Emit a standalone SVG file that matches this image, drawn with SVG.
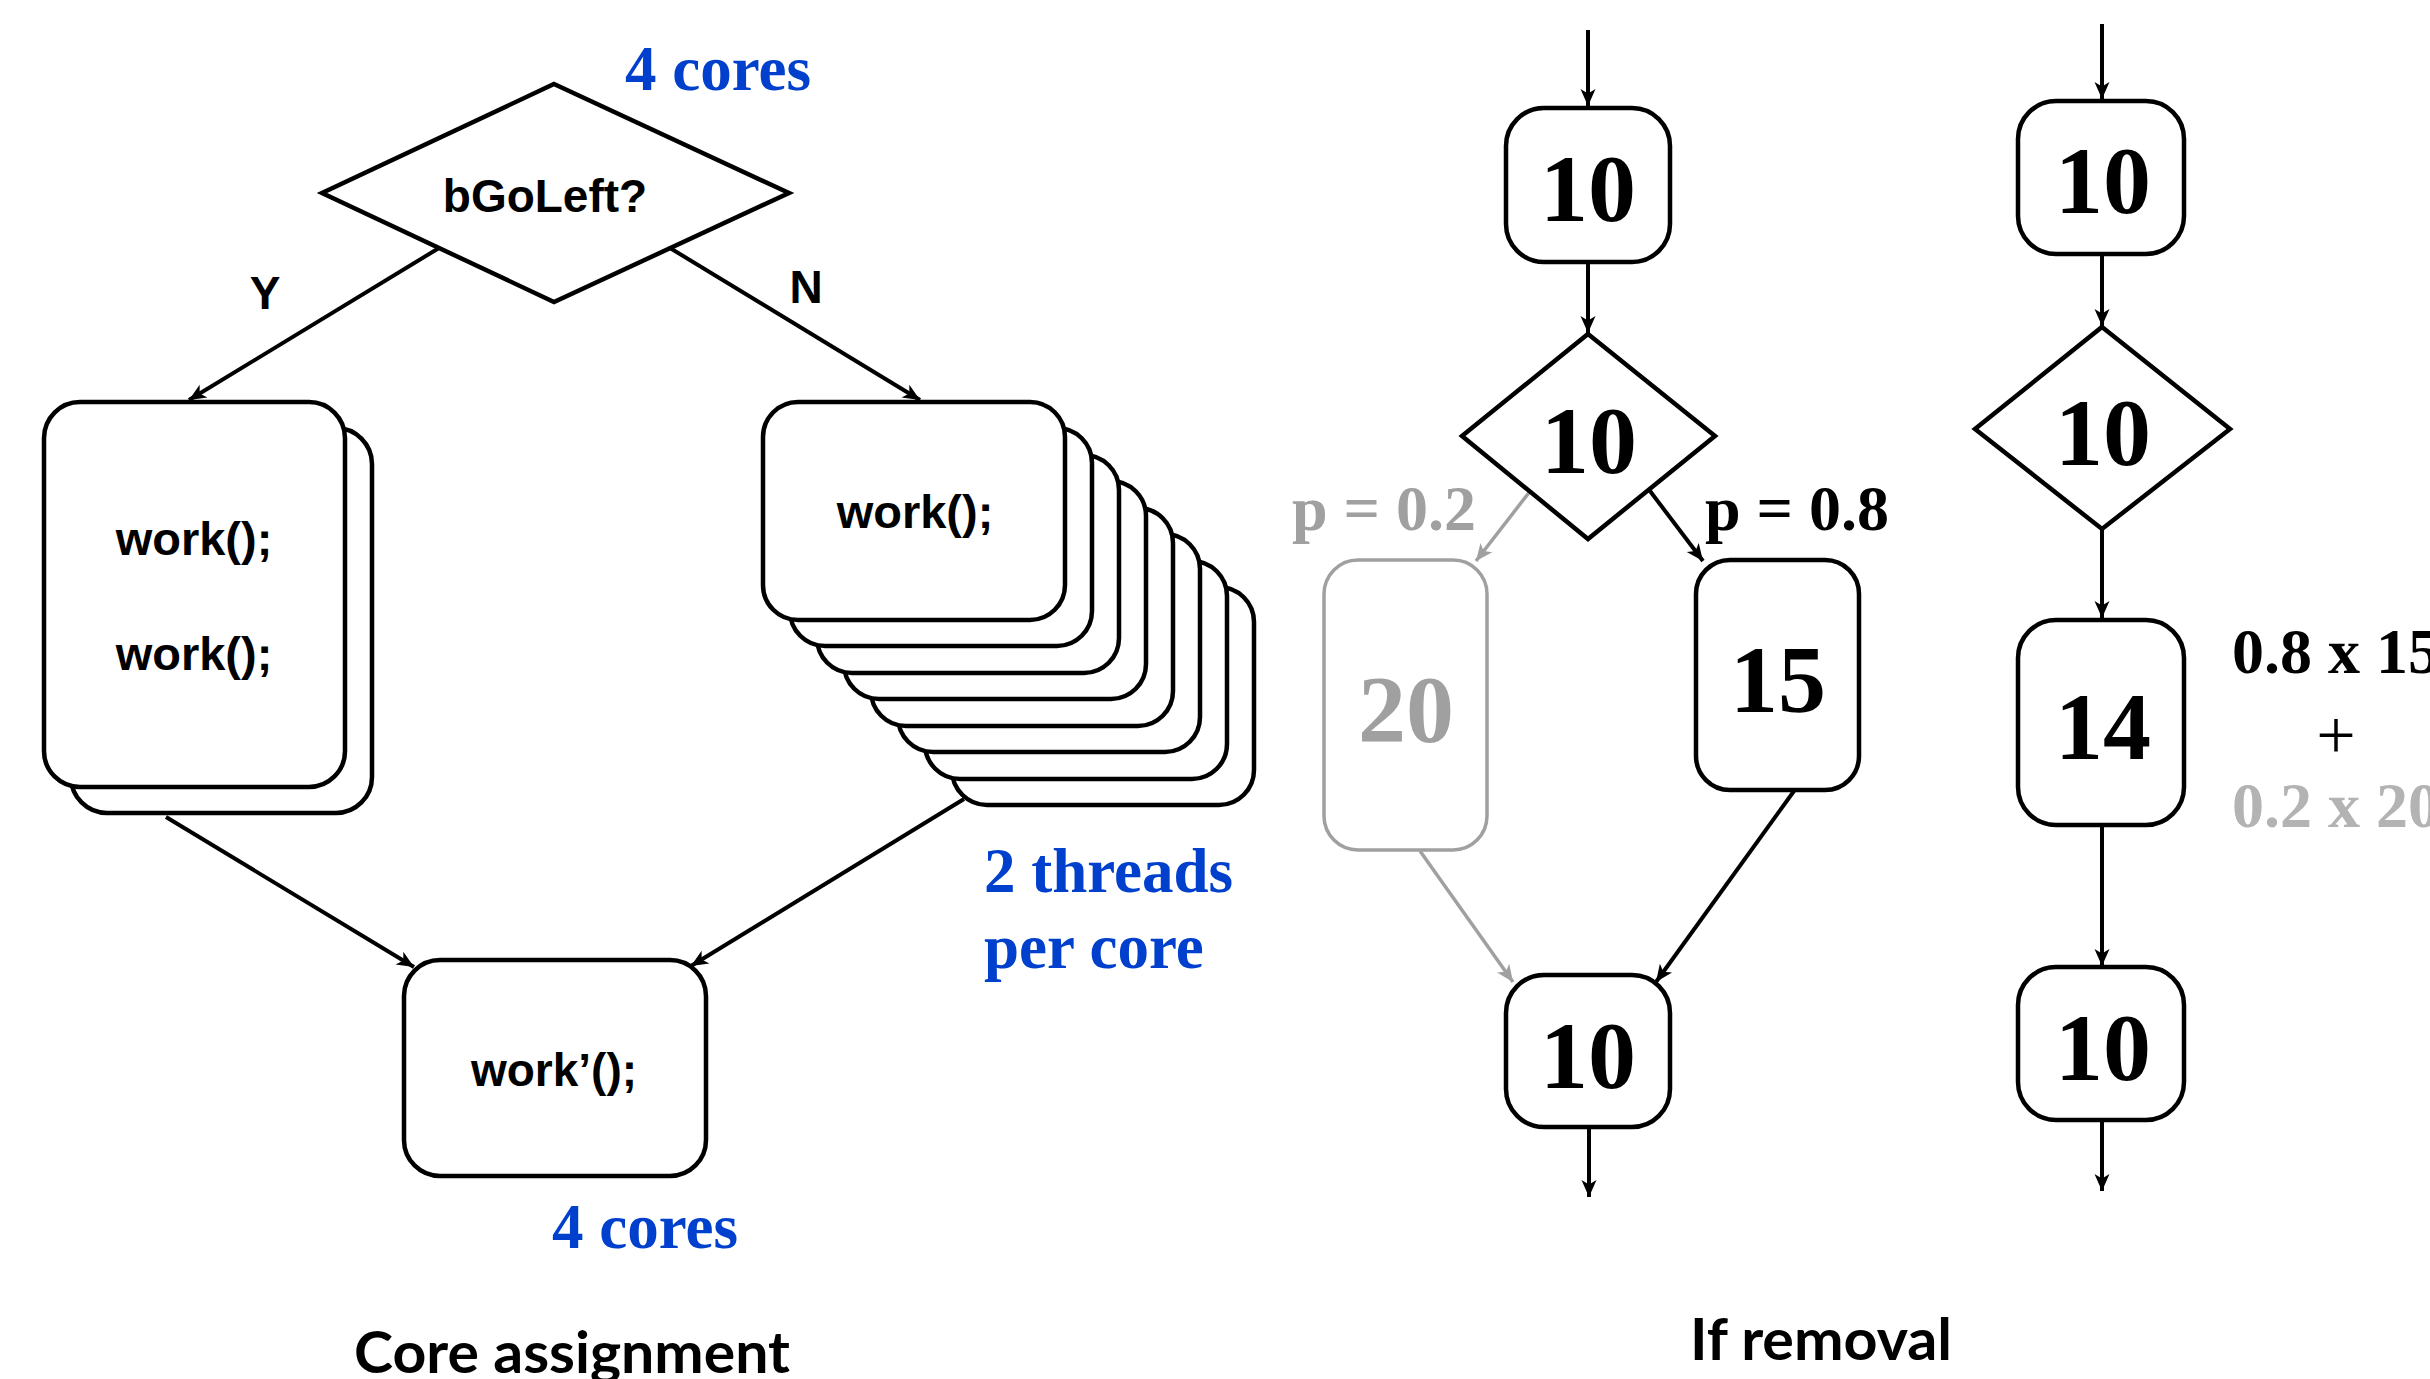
<svg xmlns="http://www.w3.org/2000/svg" width="2430" height="1379" viewBox="0 0 2430 1379">
  <style>
    .shape { fill: #fff; stroke: #000; stroke-width: 4.5; }
    .shape-grey { fill: #fff; stroke: #a0a0a0; stroke-width: 3.5; }
    .edge { fill: none; stroke: #000; stroke-width: 4; }
    .edge-grey { fill: none; stroke: #a0a0a0; stroke-width: 3.5; }
    .sans { font-family: "Liberation Sans", Arial, sans-serif; font-weight: bold; fill: #000; }
    .serif { font-family: "Liberation Serif", "Times New Roman", serif; font-weight: bold; }
    .num { font-size: 96px; fill: #000; text-anchor: middle; }
    .blue { font-size: 63px; fill: #0040cc; }
    .prob { font-size: 64px; }
    .caption { font-family: Lato, "Open Sans", sans-serif; font-weight: bold; font-size: 58px; fill: #000; }
  </style>
  <defs>
    <marker id="arrow" viewBox="-18 -9 20 18" refX="0" refY="0" markerWidth="20" markerHeight="18" markerUnits="userSpaceOnUse" orient="auto">
      <path d="M0,0 L-17,-7.5 L-12.5,0 L-17,7.5 Z" fill="#000"/>
    </marker>
    <marker id="arrow-grey" viewBox="-18 -9 20 18" refX="0" refY="0" markerWidth="20" markerHeight="18" markerUnits="userSpaceOnUse" orient="auto">
      <path d="M0,0 L-17,-7.5 L-12.5,0 L-17,7.5 Z" fill="#a0a0a0"/>
    </marker>
  </defs>
  <rect width="2430" height="1379" fill="#fff"/>

  <!-- connectors -->
  <g id="connectors">
    <!-- core assignment -->
    <line class="edge" x1="439" y1="248" x2="189" y2="400" marker-end="url(#arrow)"/>
    <line class="edge" x1="670" y1="248" x2="920" y2="400" marker-end="url(#arrow)"/>
    <line class="edge" x1="166" y1="817" x2="414" y2="967" marker-end="url(#arrow)"/>
    <line class="edge" x1="964" y1="799" x2="691" y2="966" marker-end="url(#arrow)"/>
    <!-- if removal: original flow -->
    <line class="edge" x1="1588" y1="30" x2="1588" y2="106" marker-end="url(#arrow)"/>
    <line class="edge" x1="1588" y1="262" x2="1588" y2="333" marker-end="url(#arrow)"/>
    <line class="edge-grey" x1="1531" y1="490" x2="1476" y2="561" marker-end="url(#arrow-grey)"/>
    <line class="edge" x1="1650" y1="491" x2="1703" y2="561" marker-end="url(#arrow)"/>
    <line class="edge-grey" x1="1420" y1="851" x2="1513" y2="982" marker-end="url(#arrow-grey)"/>
    <line class="edge" x1="1794" y1="791" x2="1656" y2="982" marker-end="url(#arrow)"/>
    <line class="edge" x1="1589" y1="1128" x2="1589" y2="1197" marker-end="url(#arrow)"/>
    <!-- if removal: flattened flow -->
    <line class="edge" x1="2102" y1="24" x2="2102" y2="99" marker-end="url(#arrow)"/>
    <line class="edge" x1="2102" y1="254" x2="2102" y2="326" marker-end="url(#arrow)"/>
    <line class="edge" x1="2102" y1="529" x2="2102" y2="618" marker-end="url(#arrow)"/>
    <line class="edge" x1="2102" y1="825" x2="2102" y2="966" marker-end="url(#arrow)"/>
    <line class="edge" x1="2102" y1="1120" x2="2102" y2="1191" marker-end="url(#arrow)"/>
  </g>

  <!-- core assignment -->
  <text class="serif blue" x="625" y="90">4 cores</text>

  <g id="cond-bgoleft">
    <polygon class="shape" points="554,84 789,193 554,302 322,193"/>
    <text class="sans" x="545" y="212" font-size="46" text-anchor="middle">bGoLeft?</text>
  </g>
  <text class="sans" x="265" y="309" font-size="46" text-anchor="middle">Y</text>
  <text class="sans" x="806" y="303" font-size="46" text-anchor="middle">N</text>

  <g id="work-left">
    <rect class="shape" x="71" y="428" width="301" height="385" rx="36" ry="36"/>
    <rect class="shape" x="44" y="402" width="301" height="385" rx="36" ry="36"/>
    <text class="sans" x="194" y="555" font-size="47" text-anchor="middle">work();</text>
    <text class="sans" x="194" y="670" font-size="47" text-anchor="middle">work();</text>
  </g>

  <g id="work-right">
    <rect class="shape" x="952" y="587" width="302" height="218" rx="35" ry="35"/>
    <rect class="shape" x="925" y="561" width="302" height="218" rx="35" ry="35"/>
    <rect class="shape" x="898" y="534" width="302" height="218" rx="35" ry="35"/>
    <rect class="shape" x="871" y="508" width="302" height="218" rx="35" ry="35"/>
    <rect class="shape" x="844" y="481" width="302" height="218" rx="35" ry="35"/>
    <rect class="shape" x="817" y="455" width="302" height="218" rx="35" ry="35"/>
    <rect class="shape" x="790" y="428" width="302" height="218" rx="35" ry="35"/>
    <rect class="shape" x="763" y="402" width="302" height="218" rx="35" ry="35"/>
    <text class="sans" x="915" y="528" font-size="47" text-anchor="middle">work();</text>
  </g>
  <text class="serif blue" x="984" y="892">2 threads</text>
  <text class="serif blue" x="984" y="968">per core</text>

  <g id="work-join">
    <rect class="shape" x="404" y="960" width="302" height="216" rx="36" ry="36"/>
    <text class="sans" x="554" y="1086" font-size="46" text-anchor="middle">work’();</text>
  </g>
  <text class="serif blue" x="552" y="1248">4 cores</text>
  <text class="caption" x="354" y="1373" textLength="436" lengthAdjust="spacingAndGlyphs">Core assignment</text>

  <!-- if removal: original flow -->
  <g id="a-entry">
    <rect class="shape" x="1506" y="108" width="164" height="154" rx="38" ry="38"/>
    <text class="serif num" x="1588" y="221">10</text>
  </g>
  <g id="a-cond">
    <polygon class="shape" points="1588,334 1715,436 1588,539 1462,436"/>
    <text class="serif num" x="1589" y="473">10</text>
  </g>
  <text class="serif prob" x="1292" y="530" fill="#a0a0a0">p = 0.2</text>
  <text class="serif prob" x="1705" y="530" fill="#000">p = 0.8</text>
  <g id="a-else">
    <rect class="shape-grey" x="1324" y="560" width="163" height="290" rx="34" ry="34"/>
    <text class="serif num" x="1406" y="742" style="fill:#a0a0a0">20</text>
  </g>
  <g id="a-then">
    <rect class="shape" x="1696" y="560" width="163" height="230" rx="34" ry="34"/>
    <text class="serif num" x="1778" y="712">15</text>
  </g>
  <g id="a-exit">
    <rect class="shape" x="1506" y="975" width="164" height="152" rx="38" ry="38"/>
    <text class="serif num" x="1588" y="1088">10</text>
  </g>

  <!-- if removal: flattened flow -->
  <g id="b-entry">
    <rect class="shape" x="2018" y="101" width="166" height="153" rx="38" ry="38"/>
    <text class="serif num" x="2103" y="213">10</text>
  </g>
  <g id="b-cond">
    <polygon class="shape" points="2102,327 2230,429 2102,529 1975,429"/>
    <text class="serif num" x="2103" y="465">10</text>
  </g>
  <g id="b-merged">
    <rect class="shape" x="2018" y="620" width="166" height="205" rx="38" ry="38"/>
    <text class="serif num" x="2103" y="759">14</text>
  </g>
  <g id="b-exit">
    <rect class="shape" x="2018" y="967" width="166" height="153" rx="38" ry="38"/>
    <text class="serif num" x="2103" y="1080">10</text>
  </g>
  <text class="serif prob" x="2232" y="673" fill="#000">0.8 x 15</text>
  <text x="2336" y="759" font-family="Liberation Serif, 'Times New Roman', serif" font-size="70" text-anchor="middle" fill="#000">+</text>
  <text class="serif prob" x="2232" y="827" fill="#b3b3b3">0.2 x 20</text>

  <text class="caption" x="1690" y="1360" textLength="262" lengthAdjust="spacingAndGlyphs">If removal</text>
</svg>
